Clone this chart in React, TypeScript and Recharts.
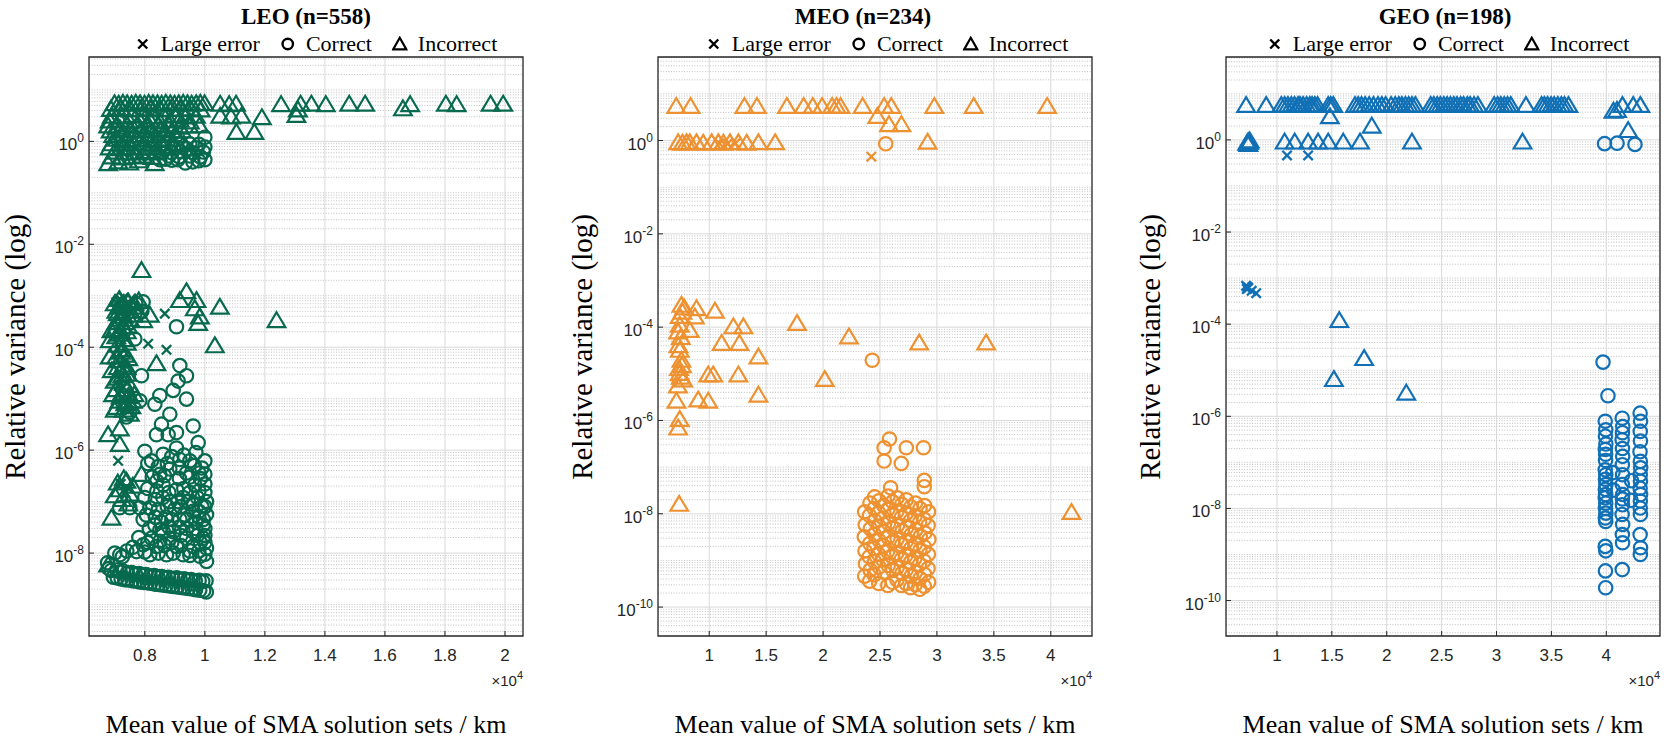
import React from 'react';
import { ScatterChart, Scatter, XAxis, YAxis, CartesianGrid, ReferenceArea } from 'recharts';

type Pt = [number, number]; // [mean SMA (km), relative variance]

// ---------- axis ticks ----------
const leoXTicks = [8000, 10000, 12000, 14000, 16000, 18000, 20000];
const meoXTicks = [10000, 15000, 20000, 25000, 30000, 35000, 40000];
const geoXTicks = [10000, 15000, 20000, 25000, 30000, 35000, 40000];
const leoYTicks = [1e-8, 1e-6, 1e-4, 1e-2, 1];
const meoYTicks = [1e-10, 1e-8, 1e-6, 1e-4, 1e-2, 1];
const geoYTicks = [1e-10, 1e-8, 1e-6, 1e-4, 1e-2, 1];

// ---------- axis ranges ----------
const leoXDomain: [number, number] = [6140, 20600];
const meoXDomain: [number, number] = [5500, 43620];
const geoXDomain: [number, number] = [5360, 44890];
const leoYDomain: [number, number] = [2.45e-10, 43.6];
const meoYDomain: [number, number] = [2.4e-11, 61.7];
const geoYDomain: [number, number] = [1.7e-11, 63.1];

// ---------- LEO ----------
const leoLargeError: Pt[] = [
  [8666, 4.5e-4], [8111, 1.17e-4], [8722, 8.9e-5], [7166, 8.7e-4], [7111, 6.2e-7], [7300, 9.2e-4],
  [7550, 8.8e-4], [7200, 2.2e-7], [7450, 1.8e-7], [7350, 1.5e-7], [7050, 7.5e-4],
];

const leoCorrect: Pt[] = [
  [8500, 0.44], [8700, 0.45], [8900, 0.43], [9100, 0.44], [9800, 0.42], [10000, 0.44],
  [8600, 0.62], [8900, 0.6], [9200, 0.63], [9600, 0.6], [9950, 0.62], [9500, 0.9], [9800, 0.88],
  [10000, 1.2], [10000, 0.78], [9200, 0.9],
  [8700, 0.75], [9050, 0.78], [9400, 0.72], [9700, 0.75], [8800, 0.52], [9150, 0.5], [9500, 0.52],
  [9850, 0.5], [9350, 0.38], [9600, 0.4],
  [7944, 7.6e-4], [9055, 2.5e-4], [7666, 1.45e-4], [9166, 4.4e-5], [9388, 2.8e-5], [9111, 2.2e-5],
  [8944, 1.45e-5], [9388, 9.8e-6], [8500, 1.15e-5], [8333, 7.8e-6], [8833, 5e-6], [7833, 9.1e-6],
  [7500, 5.4e-6], [7388, 4.4e-6], [8555, 3.2e-6], [9611, 2.95e-6], [8388, 2.0e-6], [9055, 2.2e-6],
  [8777, 2.0e-6], [9777, 1.4e-6], [9055, 1.1e-6], [8000, 9.5e-7], [8222, 6.2e-7], [8611, 8.3e-7],
  [9166, 6.6e-7], [9500, 6.2e-7], [10000, 6.2e-7], [7888, 2.8e-5], [7700, 7e-4], [7900, 5e-4],
  [9300, 8e-7], [8900, 7.5e-7], [9700, 9e-7], [10000, 3.4e-7], [8500, 3.4e-7], [8833, 4.3e-7],
  [9388, 3.6e-7], [8611, 2.1e-7], [9055, 1.7e-7], [9666, 2.1e-7], [10055, 1.0e-7], [8833, 1.0e-7],
  [9277, 1.2e-7], [9611, 6.5e-8], [10055, 5.6e-8], [9000, 7.1e-8], [9166, 4.5e-8], [9944, 3.5e-8],
  [9611, 2.6e-8], [8166, 7.6e-8], [7944, 4.5e-8], [8333, 3.5e-8], [8611, 2.6e-8], [8944, 2.6e-8],
  [8222, 1.95e-8], [8833, 1.95e-8], [9388, 1.95e-8], [9944, 1.95e-8], [7944, 1.45e-8], [8388, 1.35e-8],
  [9055, 1.35e-8], [9611, 1.35e-8], [10055, 1.26e-8], [7722, 1.07e-8], [8166, 9.3e-9], [8722, 9.3e-9],
  [9277, 9.3e-9], [9833, 8.7e-9], [7166, 9.3e-9], [10055, 6.9e-9], [7166, 7.6e-8], [7500, 7.6e-8],
  [7833, 7.6e-8], [9800, 5e-8], [9700, 3e-8], [10000, 2.2e-8], [9850, 1.6e-8], [9500, 1.1e-8],
  [9700, 4e-8], [9900, 8e-8], [9400, 3e-8], [9200, 2.2e-8], [8900, 1.6e-8], [8500, 1.7e-8],
  [9600, 9e-8], [9300, 5.5e-8], [9500, 1.5e-7], [8700, 5e-8], [10000, 1.5e-7], [9850, 2.8e-7],
  [8400, 2.5e-7],
  [8100, 5.5e-7], [8450, 4.8e-7], [8750, 5.5e-7], [9150, 4.5e-7], [9650, 5.0e-7], [9900, 4.5e-7],
  [8250, 3.0e-7], [8650, 3.2e-7], [9150, 2.8e-7], [9500, 3.0e-7], [9800, 3.6e-7],
  [8100, 1.8e-7], [8400, 1.6e-7], [8800, 1.5e-7], [9300, 1.8e-7], [9800, 1.6e-7], [10000, 2.2e-7],
  [8000, 1.2e-7], [8350, 1.1e-7], [8600, 1.2e-7], [9100, 1.0e-7], [9450, 1.0e-7], [9750, 1.2e-7],
  [8450, 7e-8], [8750, 8e-8], [9200, 8e-8], [9800, 6.5e-8], [10000, 8e-8],
  [8050, 5.5e-8], [8350, 5e-8], [8550, 4e-8], [8900, 4.5e-8], [9400, 4.5e-8], [9950, 4.5e-8],
  [8150, 3e-8], [8500, 2.8e-8], [8800, 3.2e-8], [9150, 3.2e-8], [9750, 2.2e-8], [10000, 3e-8],
  [8100, 1.6e-8], [8650, 1.4e-8], [9200, 1.4e-8], [9800, 1.1e-8], [10000, 1.6e-8],
  [7800, 2e-8], [7600, 1.3e-8], [7400, 1.1e-8], [8000, 1.05e-8], [8450, 1.0e-8], [8950, 1.0e-8],
  [9500, 9e-9], [10000, 9.5e-9],
  [6800, 5.0e-9], [7060, 4.7e-9], [7290, 4.45e-9], [7560, 4.2e-9], [7810, 4.0e-9], [8040, 3.85e-9],
  [8310, 3.65e-9], [8560, 3.5e-9], [8790, 3.4e-9], [9060, 3.3e-9], [9310, 3.15e-9], [9540, 3.05e-9],
  [9810, 2.95e-9], [10040, 2.9e-9],
  [6880, 4.6e-9], [7180, 4.3e-9], [7420, 4.1e-9], [7690, 3.9e-9], [7930, 3.75e-9], [8180, 3.6e-9],
  [8430, 3.45e-9], [8680, 3.3e-9], [8930, 3.2e-9], [9180, 3.1e-9], [9430, 3.0e-9], [9680, 2.9e-9],
  [9930, 2.8e-9],
  [6950, 3.4e-9], [7210, 3.15e-9], [7440, 3.0e-9], [7710, 2.85e-9], [7960, 2.7e-9], [8190, 2.6e-9],
  [8460, 2.45e-9], [8710, 2.35e-9], [8940, 2.25e-9], [9210, 2.15e-9], [9460, 2.05e-9], [9690, 1.95e-9],
  [9960, 1.85e-9],
  [7080, 3.3e-9], [7330, 3.05e-9], [7580, 2.9e-9], [7830, 2.75e-9], [8080, 2.65e-9], [8330, 2.5e-9],
  [8580, 2.4e-9], [8830, 2.3e-9], [9080, 2.2e-9], [9330, 2.1e-9], [9580, 2.0e-9], [9830, 1.9e-9],
  [10050, 1.75e-9],
  [6760, 6.5e-9], [7000, 1.0e-8], [7250, 8.5e-9],
];

const leoIncorrect: Pt[] = [
  [6990, 5.4], [7130, 5.3], [7270, 5.5], [7410, 5.4], [7560, 5.3], [7700, 5.5], [7840, 5.4], [7990, 5.3],
  [8130, 5.5], [8270, 5.4], [8420, 5.4], [8560, 5.3], [8700, 5.5], [8850, 5.4], [8990, 5.3], [9130, 5.4],
  [9280, 5.5], [9420, 5.4], [9560, 5.3], [9710, 5.4], [9850, 5.5], [9990, 5.4],
  [10510, 5.3], [10810, 5.2], [11040, 5.3], [12540, 5.2], [13190, 5.3], [13550, 5.3], [14030, 5.2],
  [14810, 5.3], [15340, 5.3], [16600, 4.3], [16840, 5.2], [18030, 5.3], [18390, 5.2], [19520, 5.3],
  [19940, 5.3],
  [10510, 3.1], [10870, 3.0], [11220, 3.1], [11900, 2.9], [13050, 3.2], [13100, 4.1], [11050, 1.5],
  [11650, 1.5],
  [6870, 4.2], [7200, 4.3], [7520, 4.1], [7860, 4.2], [8200, 4.3], [8520, 4.1], [8860, 4.2], [9190, 4.2],
  [9520, 4.3], [9860, 4.1],
  [6900, 3.1], [7230, 3.0], [7580, 3.2], [7940, 3.1], [8290, 3.0], [8640, 3.1], [9010, 3.2], [9340, 3.0],
  [9700, 3.1],
  [6830, 2.5], [7160, 2.6], [7490, 2.4], [7830, 2.5], [8160, 2.6], [8500, 2.4], [8830, 2.5], [9160, 2.6],
  [9500, 2.4],
  [6780, 2.0], [7060, 1.9], [7410, 2.1], [7730, 2.0], [8090, 1.9], [8440, 2.0], [8790, 2.1], [9160, 1.9],
  [9480, 2.0], [9820, 2.0],
  [6860, 1.6], [7190, 1.7], [7530, 1.6], [7870, 1.65], [8220, 1.6], [8560, 1.7], [8900, 1.6], [9240, 1.6],
  [6950, 1.3], [7300, 1.4], [7650, 1.3], [8000, 1.35], [8350, 1.3], [8700, 1.4], [9050, 1.3],
  [7080, 1.1], [7420, 1.05], [7770, 1.1], [8120, 1.1], [8460, 1.05], [8800, 1.1],
  [6900, 0.9], [7250, 0.88], [7600, 0.92], [7950, 0.9], [8300, 0.88], [8600, 0.9], [8950, 0.9], [9300, 0.88],
  [6830, 0.75], [7180, 0.72], [7520, 0.76], [7870, 0.74], [8210, 0.75],
  [7000, 0.62], [7350, 0.6], [7700, 0.6], [8050, 0.63], [8400, 0.6],
  [6900, 0.5], [7240, 0.48], [7590, 0.5], [7930, 0.52], [8250, 0.49],
  [6780, 0.37], [7120, 0.4], [7480, 0.38], [8330, 0.37], [7800, 0.42],
  [7888, 3.1e-3], [9388, 1.2e-3], [9166, 8.1e-4], [9722, 8.1e-4], [9666, 5.6e-4], [9833, 3.9e-4],
  [9777, 2.9e-4], [10500, 6.0e-4], [10333, 1.07e-4], [12388, 3.3e-4], [6888, 2.1e-4], [6833, 1.35e-4],
  [6833, 6.5e-5], [8388, 4.8e-5], [6777, 2.0e-6], [7166, 2.6e-6], [7166, 1.3e-6], [7055, 6.8e-6],
  [6944, 1.2e-5], [7944, 3.3e-4], [8166, 4.2e-4],
  [7000, 7e-4], [7150, 8.5e-4], [7300, 6.5e-4], [7450, 7.5e-4], [7600, 6e-4], [7750, 5e-4], [7100, 4.5e-4],
  [7300, 4e-4], [7500, 3.5e-4], [7050, 3e-4], [7250, 2.5e-4], [7400, 2e-4], [7150, 1.8e-4], [7300, 1.4e-4],
  [7100, 1.1e-4], [7250, 9e-5], [7350, 7e-5], [7150, 5.5e-5], [7300, 4.5e-5], [7200, 3.5e-5], [7400, 3e-5],
  [7100, 2.5e-5], [7300, 2e-5], [7500, 1.8e-5], [7050, 1.5e-5], [7250, 1.3e-5], [7450, 1.1e-5],
  [7650, 1.2e-5], [7150, 9e-6], [7350, 8e-6], [7550, 7e-6], [7000, 6e-6], [7000, 2.2e-4], [6900, 3.5e-5],
  [7050, 5e-4], [7200, 6e-4], [7400, 5e-4], [7600, 4.2e-4], [7150, 3.5e-4], [7350, 3e-4], [7450, 2.5e-4],
  [7200, 2e-4], [7050, 1.6e-4], [7400, 1.2e-4], [7200, 8e-5], [7050, 6.5e-5], [7450, 6e-5], [7100, 4e-5],
  [7400, 4e-5], [7250, 2.8e-5], [7000, 2.2e-5], [7400, 1.5e-5], [7200, 1.1e-5], [7600, 9e-6],
  [7300, 6e-6], [7500, 5e-6], [7800, 8e-4], [7650, 7e-4],
  [7888, 3.4e-7], [7166, 1.7e-7], [7388, 2.5e-7], [7000, 1.3e-7], [7250, 1.1e-7], [7500, 1.4e-7],
  [7600, 2.0e-7], [7300, 2.8e-7], [6888, 4.8e-8], [6777, 5.9e-9], [7450, 9e-8], [7100, 2.3e-7],
];

// ---------- MEO ----------
const meoLargeError: Pt[] = [
  [24240, 0.45], [10900, 0.86], [11600, 0.85], [12300, 0.87],
];

const meoCorrect: Pt[] = [
  [25500, 0.85], [24320, 1.95e-5],
  [25830, 4.0e-7], [25360, 2.6e-7], [27310, 2.6e-7], [28820, 2.6e-7], [25360, 1.35e-7], [26870, 1.2e-7],
  [28890, 5.2e-8], [28890, 3.8e-8], [25930, 3.6e-8],
  [23650, 1.1e-8], [23700, 5.8e-9], [23620, 3.2e-9], [23680, 1.6e-9], [23720, 8.5e-10], [23650, 4.6e-10],
  [24120, 1.7e-8], [24080, 9.2e-9], [24150, 4.8e-9], [24100, 2.3e-9], [24060, 1.2e-9], [24130, 6.2e-10],
  [24090, 3.6e-10],
  [24520, 2.3e-8], [24480, 1.3e-8], [24550, 7.1e-9], [24500, 3.6e-9], [24470, 1.8e-9], [24530, 9.4e-10],
  [24490, 4.9e-10],
  [24910, 1.9e-8], [24880, 1.05e-8], [24940, 5.3e-9], [24900, 2.7e-9], [24870, 1.35e-9], [24920, 7.2e-10],
  [24890, 3.2e-10],
  [25320, 1.5e-8], [25280, 8.1e-9], [25350, 4.1e-9], [25300, 2.05e-9], [25260, 1.02e-9], [25330, 5.6e-10],
  [25710, 2.4e-8], [25690, 1.25e-8], [25740, 6.2e-9], [25700, 3.1e-9], [25660, 1.55e-9], [25720, 7.8e-10],
  [25690, 2.9e-10],
  [26110, 1.8e-8], [26080, 9.6e-9], [26140, 4.9e-9], [26100, 2.45e-9], [26070, 1.2e-9], [26120, 6.1e-10],
  [26090, 3.4e-10],
  [26510, 2.2e-8], [26480, 1.12e-8], [26540, 5.6e-9], [26500, 2.85e-9], [26470, 1.42e-9], [26520, 7.1e-10],
  [26490, 3.8e-10],
  [26910, 1.6e-8], [26880, 8.4e-9], [26940, 4.3e-9], [26900, 2.15e-9], [26870, 1.06e-9], [26920, 5.3e-10],
  [26890, 2.9e-10],
  [27310, 2.0e-8], [27280, 1.0e-8], [27340, 5.1e-9], [27300, 2.55e-9], [27270, 1.27e-9], [27320, 6.4e-10],
  [27290, 3.2e-10],
  [27710, 1.4e-8], [27680, 7.2e-9], [27740, 3.6e-9], [27700, 1.8e-9], [27670, 9.1e-10], [27720, 4.6e-10],
  [27690, 2.6e-10],
  [28110, 1.7e-8], [28080, 8.9e-9], [28140, 4.5e-9], [28100, 2.25e-9], [28070, 1.12e-9], [28120, 5.6e-10],
  [28090, 3.0e-10],
  [28510, 1.3e-8], [28480, 6.6e-9], [28540, 3.3e-9], [28500, 1.65e-9], [28470, 8.2e-10], [28520, 4.1e-10],
  [28490, 2.4e-10],
  [28910, 1.5e-8], [28880, 7.6e-9], [28940, 3.9e-9], [28900, 1.95e-9], [28870, 9.7e-10], [28920, 5.0e-10],
  [28890, 2.8e-10],
  [29260, 1.1e-8], [29230, 5.6e-9], [29290, 2.8e-9], [29250, 1.35e-9], [29220, 6.7e-10], [29270, 3.4e-10],
];

const meoIncorrect: Pt[] = [
  [7100, 5.4], [8360, 5.4], [13090, 5.4], [14190, 5.4], [16820, 5.4], [18290, 5.4], [19090, 5.4],
  [19910, 5.4], [20790, 5.4], [21180, 5.4], [21530, 5.4], [23470, 5.4], [25360, 5.4], [25990, 5.4],
  [29770, 5.4], [33230, 5.4], [39680, 5.4],
  [24760, 3.3], [25790, 2.2], [26880, 2.2],
  [7270, 0.9], [7650, 0.88], [8000, 0.9], [8290, 0.9], [8880, 0.9], [9470, 0.88], [10210, 0.9],
  [10800, 0.9], [11240, 0.88], [11820, 0.9], [12560, 0.9], [13290, 0.88], [14320, 0.9], [15790, 0.9],
  [29180, 0.92],
  [7560, 2.95e-4], [8880, 2.5e-4], [10500, 2.2e-4], [8740, 1.66e-4], [7410, 1.1e-4], [7270, 7.9e-5],
  [8290, 8.5e-5], [12120, 1.02e-4], [13000, 1.02e-4], [11090, 4.5e-5], [12650, 4.5e-5], [17710, 1.2e-4],
  [22270, 6.2e-5], [28440, 4.6e-5], [34320, 4.6e-5], [14320, 2.3e-5], [7410, 3.2e-5], [7560, 1.95e-5],
  [7410, 1.02e-5], [7710, 7.4e-6], [9910, 9.5e-6], [10350, 9.5e-6], [12560, 9.5e-6], [20150, 7.6e-6],
  [14320, 3.5e-6], [7120, 2.6e-6], [9030, 2.75e-6], [9910, 2.6e-6], [7410, 1.05e-6], [7270, 6.9e-7],
  [7300, 4e-5], [7500, 6e-5], [7600, 1.5e-5], [7350, 1.3e-5], [7500, 8.5e-6], [7250, 5.5e-6],
  [7650, 2.1e-4], [7800, 2.6e-4], [7400, 1.7e-4],
  [7360, 1.6e-8], [41820, 1.07e-8],
];

// ---------- GEO ----------
const geoLargeError: Pt[] = [
  [10920, 0.46], [12840, 0.46], [7190, 6.8e-4], [7300, 6.4e-4], [7400, 6.1e-4], [7260, 5.8e-4],
  [8110, 4.7e-4], [7700, 5.3e-4],
];

const geoCorrect: Pt[] = [
  [39700, 1.5e-5], [40150, 2.8e-6],
  [39840, 0.83], [40980, 0.85], [42610, 0.8],
  [39900, 7.8e-7], [39950, 5.1e-7], [39920, 3.7e-7], [39960, 2.5e-7], [39910, 1.9e-7], [39940, 1.5e-7],
  [39930, 1.1e-7], [39900, 6.9e-8], [39950, 5.4e-8], [39920, 4.3e-8], [39960, 3.3e-8], [39910, 2.6e-8],
  [39940, 2.0e-8], [39900, 1.7e-8], [39950, 1.3e-8], [39920, 1.0e-8], [39960, 7.9e-9], [39910, 6.2e-9],
  [39940, 5.2e-9], [39900, 1.5e-9], [39950, 1.2e-9], [39920, 4.4e-10], [39940, 1.9e-10],
  [41450, 9.1e-7], [41500, 6.0e-7], [41470, 4.4e-7], [41440, 3.1e-7], [41470, 2.0e-7], [41490, 1.35e-7],
  [41460, 8.9e-8], [41480, 5.4e-8], [41450, 3.3e-8], [41500, 2.0e-8], [41470, 1.6e-8], [41470, 1.2e-8],
  [41440, 7.4e-9], [41490, 4.5e-9], [41460, 2.7e-9], [41480, 1.8e-9], [41450, 4.7e-10],
  [43080, 1.17e-6], [43120, 7.8e-7], [43090, 4.7e-7], [43110, 2.9e-7], [43070, 1.7e-7], [43100, 1.05e-7],
  [43130, 7.6e-8], [43090, 5.4e-8], [43110, 3.9e-8], [43080, 2.75e-8], [43120, 2.0e-8], [43100, 1.45e-8],
  [43090, 1.02e-8], [43110, 7.4e-9], [43080, 2.7e-9], [43120, 1.4e-9], [43100, 1.0e-9],
  [40600, 6e-8], [40650, 2.5e-8], [42300, 4e-8], [42250, 1.5e-8],
];

const geoIncorrect: Pt[] = [
  [7190, 5.6], [9020, 5.6], [10400, 5.6], [10700, 5.6], [11000, 5.6], [11310, 5.6], [11600, 5.6],
  [11920, 5.6], [12100, 5.6], [12380, 5.6], [12700, 5.6], [12990, 5.6], [13200, 5.6], [13450, 5.6],
  [13700, 5.6], [14670, 5.6], [14900, 5.6], [15130, 5.6], [17110, 5.6], [17400, 5.6], [17700, 5.6],
  [18030, 5.6], [18400, 5.6], [18790, 5.6], [19200, 5.6], [19550, 5.6], [19900, 5.6], [20400, 5.6],
  [20770, 5.6], [21100, 5.6], [21380, 5.6], [21700, 5.6], [22000, 5.6], [22300, 5.6], [22610, 5.6],
  [24000, 5.6], [24280, 5.6], [24600, 5.6], [24890, 5.6], [25200, 5.6], [25500, 5.6], [25800, 5.6],
  [26110, 5.6], [26400, 5.6], [26730, 5.6], [27000, 5.6], [27340, 5.6], [27600, 5.6], [27950, 5.6],
  [28300, 5.6], [29780, 5.6], [30100, 5.6], [30390, 5.6], [30700, 5.6], [31000, 5.6], [31300, 5.6],
  [32680, 5.6], [34100, 5.6], [34360, 5.6], [34650, 5.6], [34970, 5.6], [35250, 5.6], [35580, 5.6],
  [35900, 5.6], [36190, 5.6], [36550, 5.6], [41470, 5.6], [42450, 5.6], [43100, 5.6],
  [40650, 4.2], [40980, 4.4], [14820, 3.2], [18640, 2.0], [41990, 1.6],
  [7300, 0.85], [7380, 0.92], [7450, 0.88], [7520, 0.95], [7400, 0.8], [10700, 0.9], [11620, 0.9],
  [12840, 0.9], [13750, 0.9], [14670, 0.9], [16040, 0.9], [17570, 0.9], [22300, 0.9], [32370, 0.9],
  [15680, 1.2e-4], [17940, 1.8e-5], [15190, 6.3e-6], [21780, 3.2e-6],
];

// ---------- styling ----------
const SERIF = '"Liberation Serif", "Times New Roman", Times, serif';
const SANS = '"Liberation Sans", Arial, Helvetica, sans-serif';
const INK = '#262626';

const PLOT_TOP = 57;
const PLOT_BOTTOM = 636;
const PLOT_W = 434;
const Y_AXIS_W = 72;
const CHART_H = 700;
const TICK_IN = 5; // inward tick length

// dotted minor grid at 2..9 x 10^n (log axis)
function minorDecadeValues(domain: [number, number], majors: number[]): number[] {
  const out: number[] = [];
  const lo = Math.floor(Math.log10(domain[0]));
  const hi = Math.ceil(Math.log10(domain[1]));
  for (let e = lo; e <= hi; e++) {
    for (let k = 1; k <= 9; k++) {
      const v = k * Math.pow(10, e);
      if (v <= domain[0] || v >= domain[1]) continue;
      if (majors.some((m) => Math.abs(m - v) / m < 1e-9)) continue;
      out.push(v);
    }
  }
  return out;
}

// bottom tick labels: 0.8, 1, 1.2 ... (values in units of 1e4 km)
const XTick = (props: any) => {
  const { x, payload } = props;
  const label = String(Math.round(payload.value / 1000) / 10);
  return (
    <text x={x} y={PLOT_TOP + (PLOT_BOTTOM - PLOT_TOP) + 25} textAnchor="middle" fill={INK} fontFamily={SANS} fontSize={17}>
      {label}
    </text>
  );
};

// left tick labels: 10^n
const makeYTick = (plotLeftInChart: number) => (props: any) => {
  const { y, payload } = props;
  const e = Math.round(Math.log10(payload.value));
  return (
    <text x={plotLeftInChart - 5} y={y + 9} textAnchor="end" fill={INK} fontFamily={SANS} fontSize={17}>
      10
      <tspan dy={-8} fontSize={12}>
        {e}
      </tspan>
    </text>
  );
};
const YTick = makeYTick(Y_AXIS_W);

const triangleShape = (color: string) => (props: any) => {
  const { cx, cy } = props;
  if (cx == null || cy == null) return <g />;
  return (
    <path
      d={`M${cx},${cy - 8.3}L${cx + 8.8},${cy + 6.5}L${cx - 8.8},${cy + 6.5}Z`}
      fill="none"
      stroke={color}
      strokeWidth={2.2}
    />
  );
};

const circleShape = (color: string) => (props: any) => {
  const { cx, cy } = props;
  if (cx == null || cy == null) return <g />;
  return <circle cx={cx} cy={cy} r={6.7} fill="none" stroke={color} strokeWidth={2.2} />;
};

const crossShape = (color: string) => (props: any) => {
  const { cx, cy } = props;
  if (cx == null || cy == null) return <g />;
  const h = 4.7;
  return (
    <path
      d={`M${cx - h},${cy - h}L${cx + h},${cy + h}M${cx - h},${cy + h}L${cx + h},${cy - h}`}
      stroke={color}
      strokeWidth={2.3}
      fill="none"
    />
  );
};

function LegendMark({ kind }: { kind: 'cross' | 'circle' | 'triangle' }) {
  return (
    <svg width={16} height={16} style={{ display: 'block' }}>
      {kind === 'cross' && <path d="M3.5,3.5L12.5,12.5M3.5,12.5L12.5,3.5" stroke="#000" strokeWidth={2.4} />}
      {kind === 'circle' && <circle cx={8} cy={8} r={5.2} fill="none" stroke="#000" strokeWidth={2.4} />}
      {kind === 'triangle' && <path d="M8,1.8L14.6,13.4L1.4,13.4Z" fill="none" stroke="#000" strokeWidth={2.2} />}
    </svg>
  );
}

interface PanelProps {
  left: number;
  title: string;
  titleShift: number;
  legendShift: number;
  color: string;
  xDomain: [number, number];
  yDomain: [number, number];
  xTicks: number[];
  yTicks: number[];
  largeError: Pt[];
  correct: Pt[];
  incorrect: Pt[];
}

function Panel(p: PanelProps) {
  const toData = (pts: Pt[]) => pts.map(([x, y]) => ({ x, y }));
  const minor = minorDecadeValues(p.yDomain, p.yTicks);
  const cx = p.left + PLOT_W / 2;
  const item = { display: 'flex', alignItems: 'center' } as const;
  return (
    <>
      <div style={{ position: 'absolute', left: p.left - Y_AXIS_W, top: 0 }}>
        <ScatterChart
          width={Y_AXIS_W + PLOT_W + 4}
          height={CHART_H}
          margin={{ top: PLOT_TOP, right: 4, bottom: 0, left: 0 }}
        >
          <CartesianGrid
            vertical={false}
            horizontalValues={minor}
            stroke="#c2c2c2"
            strokeDasharray="1 1.6"
          />
          <CartesianGrid horizontalValues={p.yTicks} verticalValues={p.xTicks} stroke="#d9d9d9" />
          <XAxis
            dataKey="x"
            type="number"
            domain={p.xDomain}
            ticks={p.xTicks}
            interval={0}
            allowDataOverflow
            height={CHART_H - PLOT_BOTTOM}
            axisLine={false}
            tickLine={{ stroke: INK, strokeWidth: 1 }}
            tickSize={-TICK_IN}
            tickMargin={0}
            tick={XTick}
          />
          <XAxis
            xAxisId="top"
            orientation="top"
            type="number"
            domain={p.xDomain}
            ticks={p.xTicks}
            interval={0}
            allowDataOverflow
            mirror
            height={0}
            axisLine={false}
            tick={false}
            tickLine={{ stroke: INK, strokeWidth: 1 }}
            tickSize={TICK_IN}
          />
          <YAxis
            dataKey="y"
            type="number"
            scale="log"
            domain={p.yDomain}
            ticks={p.yTicks}
            interval={0}
            allowDataOverflow
            width={Y_AXIS_W}
            axisLine={false}
            tickLine={{ stroke: INK, strokeWidth: 1 }}
            tickSize={-TICK_IN}
            tickMargin={0}
            tick={YTick}
          />
          <YAxis
            yAxisId="right"
            orientation="right"
            type="number"
            scale="log"
            domain={p.yDomain}
            ticks={[...p.yTicks, ...minor]}
            interval={0}
            allowDataOverflow
            mirror
            width={0}
            axisLine={false}
            tick={false}
            tickLine={{ stroke: INK, strokeWidth: 0.8 }}
            tickSize={3}
          />
          <ReferenceArea
            x1={p.xDomain[0]}
            x2={p.xDomain[1]}
            y1={p.yDomain[0]}
            y2={p.yDomain[1]}
            fill="none"
            fillOpacity={0}
            stroke={INK}
            strokeWidth={1.3}
            ifOverflow="visible"
          />
          <Scatter data={toData(p.correct)} shape={circleShape(p.color)} isAnimationActive={false} />
          <Scatter data={toData(p.incorrect)} shape={triangleShape(p.color)} isAnimationActive={false} />
          <Scatter data={toData(p.largeError)} shape={crossShape(p.color)} isAnimationActive={false} />
        </ScatterChart>
      </div>

      {/* title */}
      <div
        style={{
          position: 'absolute',
          left: cx + p.titleShift,
          top: 17,
          transform: 'translate(-50%, -50%)',
          fontFamily: SERIF,
          fontWeight: 'bold',
          fontSize: 23,
          whiteSpace: 'nowrap',
          color: '#000',
        }}
      >
        {p.title}
      </div>

      {/* legend */}
      <div
        style={{
          position: 'absolute',
          left: cx + p.legendShift,
          top: 44,
          transform: 'translate(-50%, -50%)',
          display: 'flex',
          alignItems: 'center',
          fontFamily: SERIF,
          fontSize: 22,
          whiteSpace: 'nowrap',
          color: '#000',
        }}
      >
        <div style={item}>
          <LegendMark kind="cross" />
          <span style={{ marginLeft: 10, marginRight: 20 }}>Large error</span>
        </div>
        <div style={item}>
          <LegendMark kind="circle" />
          <span style={{ marginLeft: 10, marginRight: 20 }}>Correct</span>
        </div>
        <div style={item}>
          <LegendMark kind="triangle" />
          <span style={{ marginLeft: 10 }}>Incorrect</span>
        </div>
      </div>

      {/* y label */}
      <div
        style={{
          position: 'absolute',
          left: Math.max(p.left - 76, 15),
          top: (PLOT_TOP + PLOT_BOTTOM) / 2,
          transform: 'translate(-50%, -50%) rotate(-90deg)',
          fontFamily: SERIF,
          fontSize: 29,
          lineHeight: '30px',
          whiteSpace: 'nowrap',
          color: '#000',
        }}
      >
        Relative variance (log)
      </div>

      {/* exponent of x axis */}
      <div
        style={{
          position: 'absolute',
          left: p.left + PLOT_W - 44,
          top: 672,
          width: 44,
          textAlign: 'right',
          fontFamily: SANS,
          fontSize: 15,
          color: INK,
          whiteSpace: 'nowrap',
        }}
      >
        ×10<span style={{ fontSize: 11, position: 'relative', top: -7 }}>4</span>
      </div>

      {/* x label */}
      <div
        style={{
          position: 'absolute',
          left: cx,
          top: 725,
          transform: 'translate(-50%, -50%)',
          fontFamily: SERIF,
          fontSize: 26,
          whiteSpace: 'nowrap',
          color: '#000',
        }}
      >
        Mean value of SMA solution sets / km
      </div>
    </>
  );
}

export default function App() {
  return (
    <div
      style={{
        position: 'absolute',
        left: 0,
        top: 0,
        width: 1670,
        height: 743,
        background: '#fff',
        overflow: 'hidden',
      }}
    >
      <Panel
        left={89}
        title="LEO (n=558)"
        titleShift={0}
        legendShift={10}
        color="#076A4F"
        xDomain={leoXDomain}
        yDomain={leoYDomain}
        xTicks={leoXTicks}
        yTicks={leoYTicks}
        largeError={leoLargeError}
        correct={leoCorrect}
        incorrect={leoIncorrect}
      />
      <Panel
        left={658}
        title="MEO (n=234)"
        titleShift={-12}
        legendShift={12}
        color="#EE9130"
        xDomain={meoXDomain}
        yDomain={meoYDomain}
        xTicks={meoXTicks}
        yTicks={meoYTicks}
        largeError={meoLargeError}
        correct={meoCorrect}
        incorrect={meoIncorrect}
      />
      <Panel
        left={1226}
        title="GEO (n=198)"
        titleShift={2}
        legendShift={5}
        color="#1170B5"
        xDomain={geoXDomain}
        yDomain={geoYDomain}
        xTicks={geoXTicks}
        yTicks={geoYTicks}
        largeError={geoLargeError}
        correct={geoCorrect}
        incorrect={geoIncorrect}
      />
    </div>
  );
}
